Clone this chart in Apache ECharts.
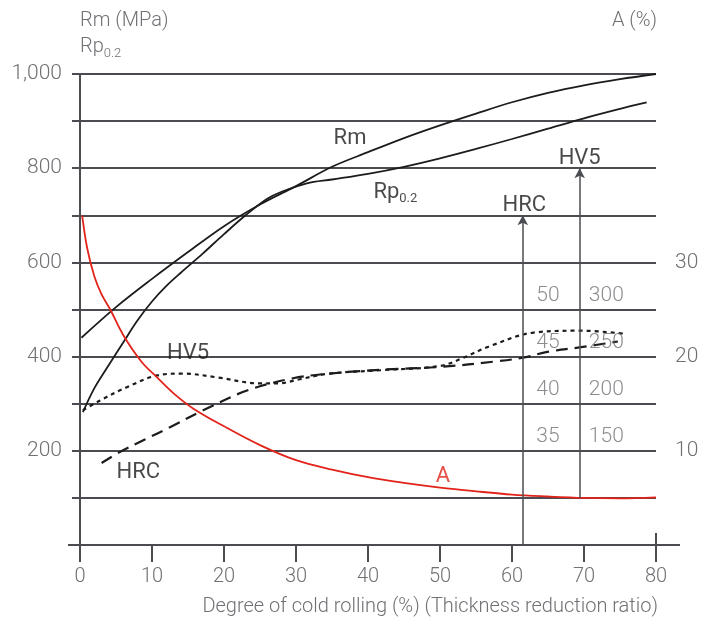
<!DOCTYPE html>
<html>
<head>
<meta charset="utf-8">
<script src="https://cdn.jsdelivr.net/npm/echarts@6.0.0/dist/echarts.min.js"></script>
<style>
  html, body { margin: 0; padding: 0; background: #fff; }
  #chart { width: 702px; height: 620px; }
</style>
</head>
<body>
<div id="chart"></div>
<script>
// degree of cold rolling (%) -> value
const rm = [
  [0.2, 440], [5, 505], [10, 565], [15, 622], [20, 677], [25, 723], [30, 762],
  [35, 803], [40, 834], [45, 864], [50, 891], [55, 916], [60, 940], [65, 960],
  [70, 976], [75, 989], [80, 1000]
]
const rp02 = [
  [0.4, 282], [2, 333], [4, 382], [6, 430], [8, 477], [10, 517], [12, 550],
  [14, 578], [17, 618], [20, 660], [23, 700], [26, 735], [28, 750], [31.5, 768],
  [35, 776], [40, 788], [45, 803], [50, 821], [55, 841], [60, 862], [65, 884],
  [70, 906], [75, 926], [78.7, 940]
]
const hv5 = [
  [0.4, 193], [2.8, 203.5], [6.5, 217.5], [10.7, 230], [14.3, 232], [19, 228],
  [25, 221.5], [27.5, 221.5], [30.5, 226], [34.7, 232], [41.7, 235.5], [50, 240],
  [53, 248], [56.9, 261], [63, 275.5], [69.6, 277.5], [75.4, 274.5]
]
const hrc = [
  [3, 33.7], [5.6, 34.9], [9, 36.2], [12.5, 37.5], [17.1, 39.3], [23.2, 41.4],
  [29.6, 42.7], [34.7, 43.2], [41.7, 43.6], [50, 43.9], [57.9, 44.5], [61.7, 44.9],
  [64.9, 45.5], [69.6, 46.0], [74.7, 46.6]
]
const elongation = [
  [0.3, 35], [1, 31.5], [2, 28.5], [3, 26.6], [4.2, 25], [6, 22.3], [8.6, 19.4],
  [10.7, 17.8], [13, 16.1], [15.7, 14.5], [20, 12.6], [25, 10.6], [30, 9.0],
  [35, 8.0], [40, 7.2], [45, 6.6], [50, 6.1], [55, 5.7], [60, 5.35], [65, 5.15],
  [70, 5.0], [75, 4.95], [80, 5.05]
]

const leftTicks = [200, 400, 600, 800, 1000]
const rightTicks = [10, 20, 30]
const hrcTicks = [35, 40, 45, 50]
const hvTicks = [150, 200, 250, 300]

// hardness scales are drawn against the MPa axis
const hrcToMPa = h => (h - 25) * 20
const hvToMPa = v => (v - 50) * 2

const GRID = '#4b4c51'
const GREY = '#707075'
const INK = '#1c1c1c'
const RED = '#e2231a'
const FONT = 'Roboto'

const curve = (name, data, style, yAxisIndex) => ({
  name,
  type: 'line',
  data,
  yAxisIndex: yAxisIndex || 0,
  smooth: 0.35,
  symbol: 'none',
  silent: true,
  lineStyle: style,
  z: 3
})

const getOption = () => {
  const notes = [
    { text: 'Rm', at: [37.5, 864] },
    { text: '{a|Rp}{b|0.2}', at: [43.8, 748] },
    { text: 'HRC', at: [61.7, 720] },
    { text: 'HV5', at: [69.4, 820] },
    { text: 'HV5', at: [15, 407] },
    { text: 'HRC', at: [8.1, 154] },
    { text: 'A', at: [50.4, 146], color: RED }
  ]

  return {
    animation: false,
    grid: { left: 80, right: 46, top: 74, bottom: 75, outerBoundsMode: 'none' },
    xAxis: [
      {
        type: 'value', min: 0, max: 80, interval: 10,
        axisLine: { show: true, lineStyle: { color: GRID, width: 2 } },
        axisTick: { show: true, length: 17, lineStyle: { color: GRID, width: 2 } },
        axisLabel: { color: GREY, fontSize: 20, fontFamily: FONT, fontWeight: 300, margin: 22 },
        splitLine: { show: false }
      },
      {
        type: 'value', position: 'top', min: 0, max: 80,
        axisLine: { show: false },
        axisTick: { show: true, customValues: [0, 80], length: 12, lineStyle: { color: GRID, width: 2 } },
        axisLabel: { show: false },
        splitLine: { show: false }
      }
    ],
    yAxis: [
      {
        type: 'value', min: 0, max: 1000, interval: 100,
        axisLine: { show: true, lineStyle: { color: GRID, width: 2 } },
        axisTick: { show: true, length: 8, lineStyle: { color: GRID, width: 2 } },
        axisLabel: {
          customValues: leftTicks, color: GREY, fontSize: 21, fontFamily: FONT, fontWeight: 300, margin: 18,
          formatter: v => v.toLocaleString('en-US')
        },
        splitLine: { show: true, lineStyle: { color: GRID, width: 2 } }
      },
      {
        type: 'value', position: 'right', min: 0, max: 50, interval: 5,
        axisLine: { show: true, lineStyle: { color: GRID, width: 2 } },
        axisTick: { show: true, length: 17, lineStyle: { color: GRID, width: 2 } },
        axisLabel: { customValues: rightTicks, color: GREY, fontSize: 21, fontFamily: FONT, fontWeight: 300, margin: 19 },
        splitLine: { show: false }
      },
      {
        type: 'value', position: 'left', min: 0, max: 1000,
        axisLine: { show: false },
        axisTick: { show: true, customValues: [0], length: 12, lineStyle: { color: GRID, width: 2 } },
        axisLabel: { show: false },
        splitLine: { show: false }
      },
      {
        type: 'value', position: 'right', min: 0, max: 1000,
        axisLine: { show: false },
        axisTick: { show: true, customValues: [0], length: 24, lineStyle: { color: GRID, width: 2 } },
        axisLabel: { show: false },
        splitLine: { show: false }
      }
    ],
    graphic: [
      {
        type: 'text', x: 80, y: 21,
        style: { text: 'Rm (MPa)', font: '300 20px Roboto', fill: GREY, align: 'left', verticalAlign: 'middle' }
      },
      {
        type: 'text', x: 80, y: 34,
        style: {
          text: '{a|Rp}{b|0.2}', fill: GREY, align: 'left', verticalAlign: 'top',
          rich: {
            a: { font: '300 20px Roboto', fill: GREY, lineHeight: 26 },
            b: { font: '300 13px Roboto', fill: GREY, lineHeight: 14, verticalAlign: 'bottom' }
          }
        }
      },
      {
        type: 'text', x: 657, y: 21,
        style: { text: 'A (%)', font: '300 20px Roboto', fill: GREY, align: 'right', verticalAlign: 'middle' }
      },
      {
        type: 'text', x: 658, y: 607,
        style: {
          text: 'Degree of cold rolling (%) (Thickness reduction ratio)',
          font: '300 20px Roboto', fill: GREY, align: 'right', verticalAlign: 'middle'
        }
      }
    ],
    series: [
      Object.assign(curve('Rm', rm, { color: INK, width: 1.8 }), {
        markLine: {
          silent: true,
          symbol: ['none', 'arrow'],
          symbolSize: [8, 10],
          label: { show: false },
          lineStyle: { color: GRID, width: 1.5, type: 'solid' },
          data: [
            [{ coord: [61.5, 0] }, { coord: [61.5, 700] }],
            [{ coord: [69.4, 100] }, { coord: [69.4, 800] }]
          ]
        }
      }),
      curve('Rp0.2', rp02, { color: INK, width: 1.8 }),
      curve('HV5', hv5.map(([x, v]) => [x, hvToMPa(v)]), { color: INK, width: 2.2, type: [4, 4] }),
      curve('HRC', hrc.map(([x, h]) => [x, hrcToMPa(h)]), { color: INK, width: 2.2, type: [12, 7] }),
      curve('A', elongation, { color: RED, width: 1.8 }, 1),
      {
        type: 'scatter', silent: true, symbolSize: 0, z: 4,
        data: hrcTicks.map(h => [65, hrcToMPa(h), h]).concat(hvTicks.map(v => [73.1, hvToMPa(v), v])),
        label: {
          show: true, position: 'inside', offset: [0, -14],
          color: GREY, fontSize: 21, fontFamily: FONT, fontWeight: 300,
          formatter: p => String(p.value[2])
        }
      },
      {
        type: 'scatter', silent: true, symbolSize: 0, z: 5,
        data: notes.map(n => ({ value: n.at, name: n.text, label: n.color ? { color: n.color } : undefined })),
        label: {
          show: true, position: 'inside',
          color: INK, fontSize: 22, fontFamily: FONT,
          formatter: p => p.name,
          rich: {
            a: { fontSize: 22, fontFamily: FONT, color: INK, lineHeight: 26 },
            b: { fontSize: 13, fontFamily: FONT, color: INK, lineHeight: 14, verticalAlign: 'bottom' }
          }
        }
      }
    ]
  }
}

const chart = echarts.init(document.getElementById('chart'))
chart.setOption(getOption())
</script>
</body>
</html>
